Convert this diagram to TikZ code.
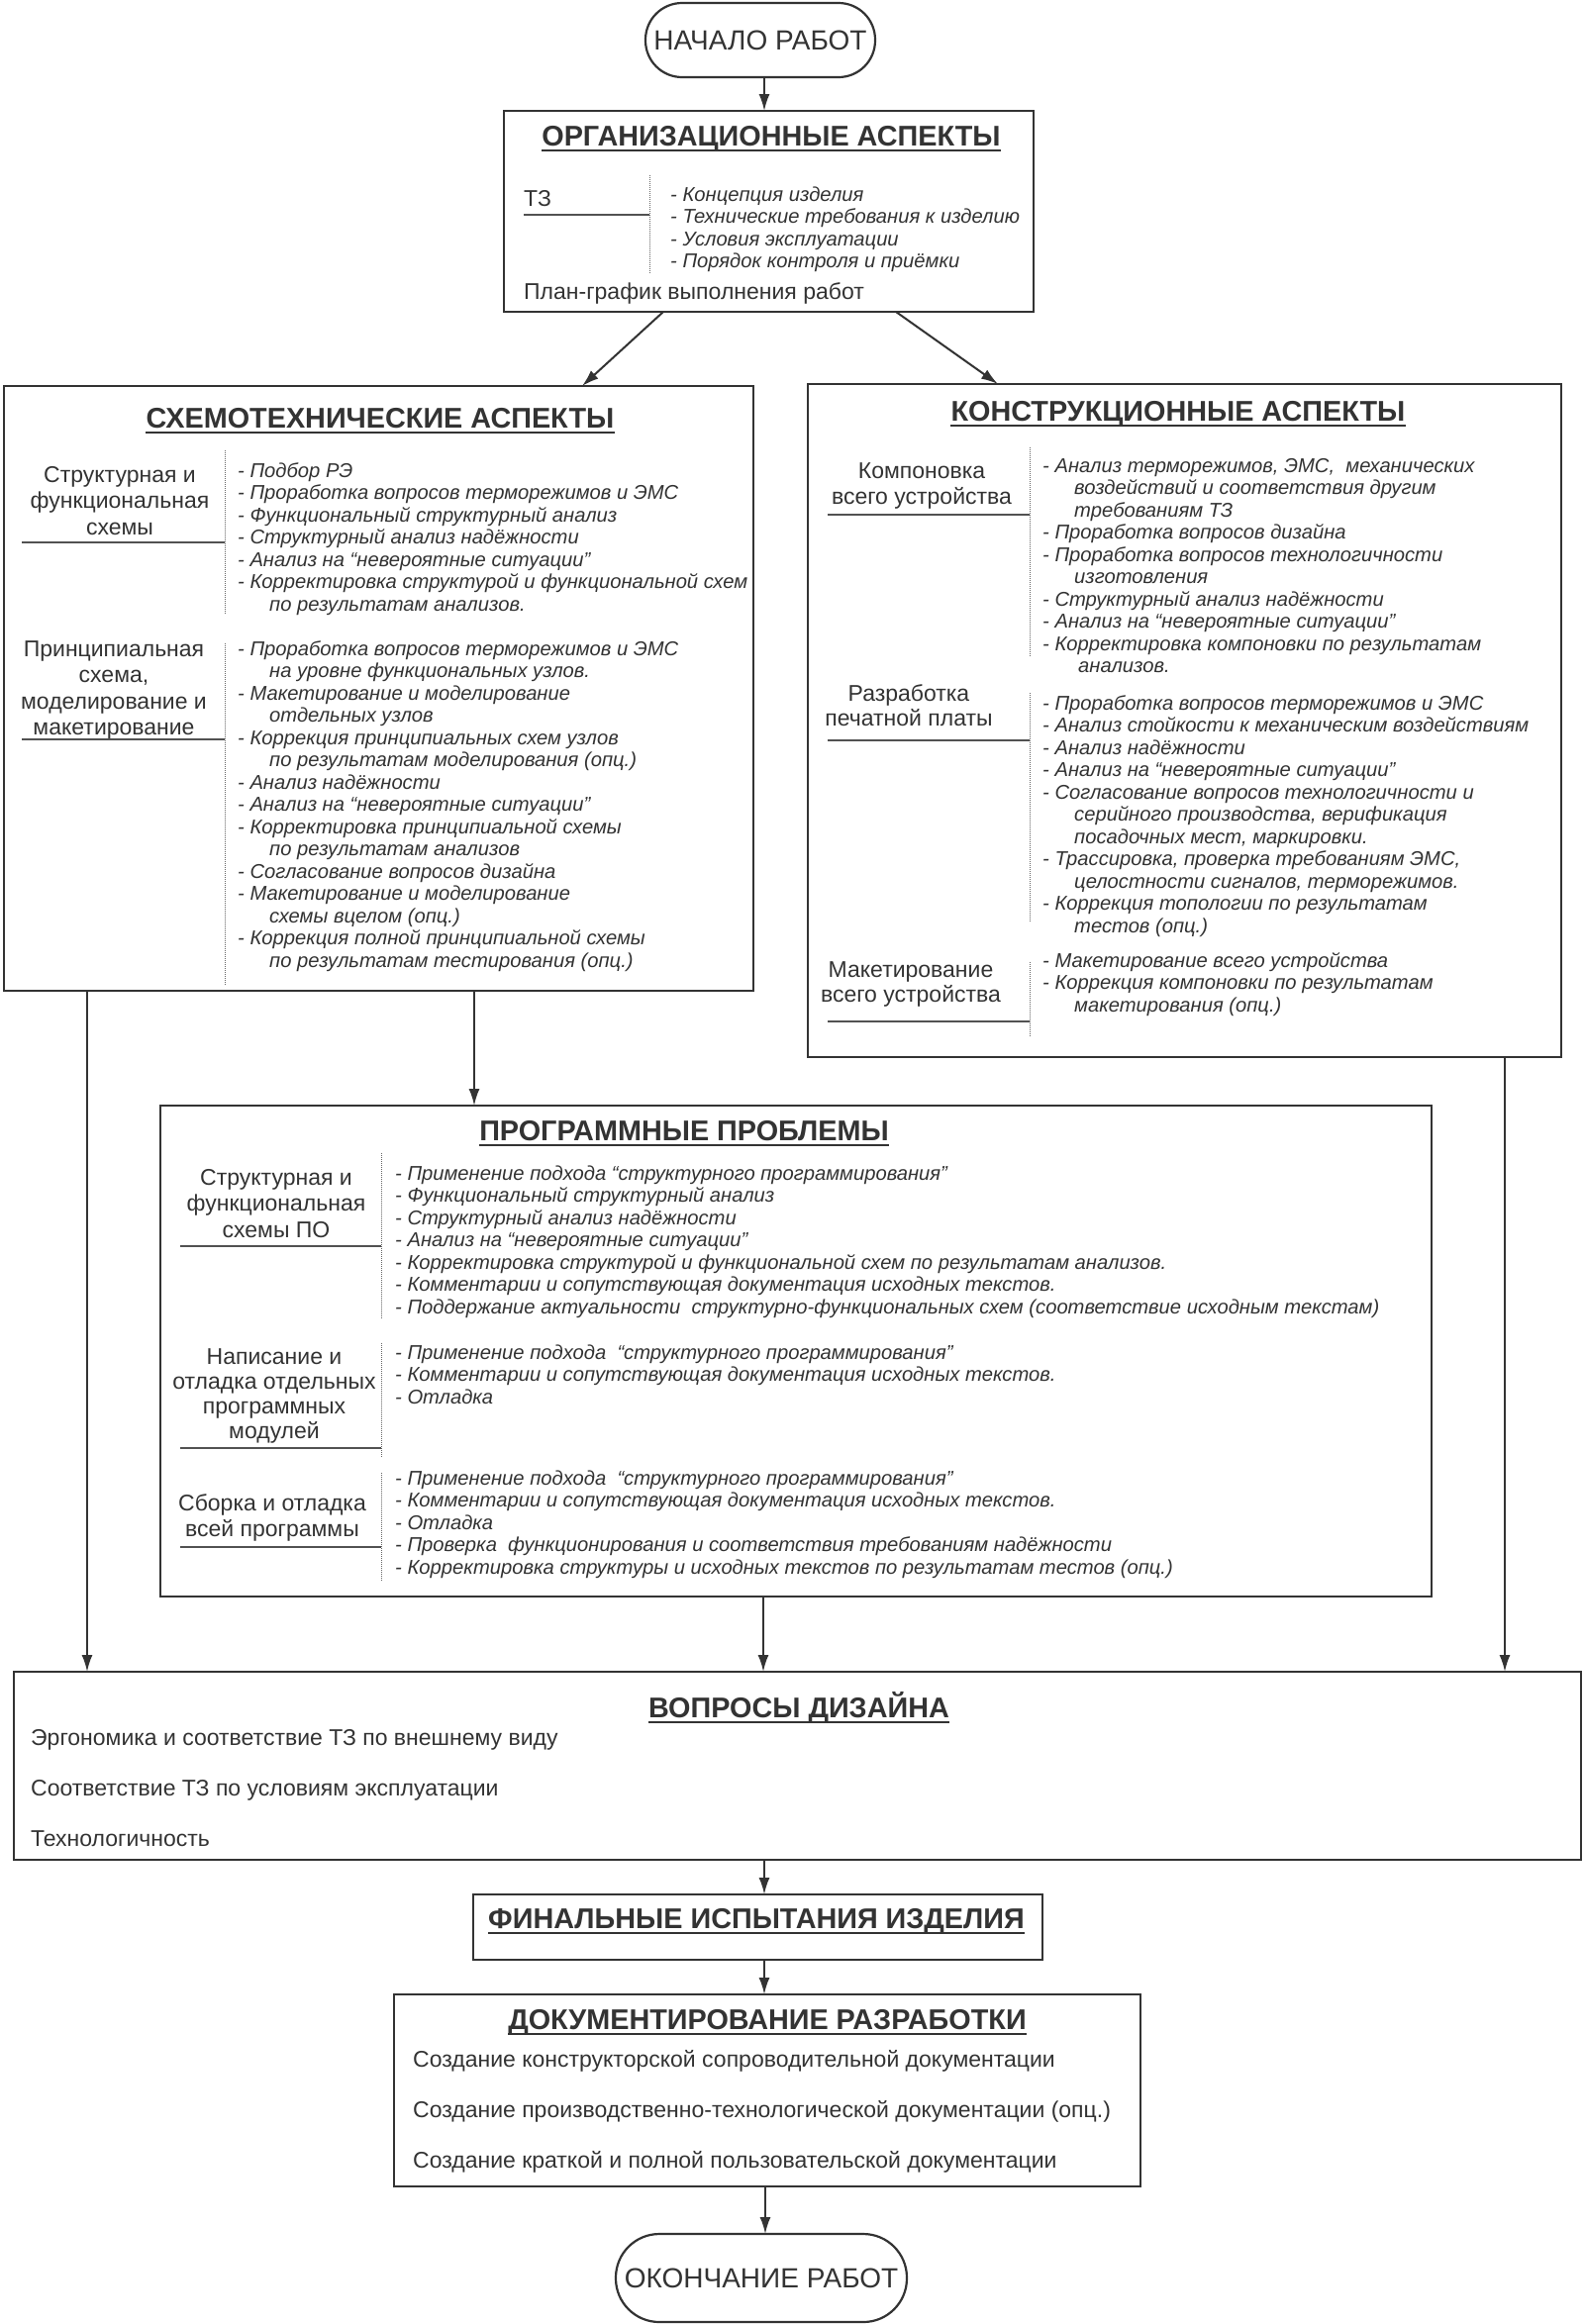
\documentclass[tikz,border=0pt]{standalone}
\usepackage{fontspec}
\setmainfont{Liberation Sans}
\usetikzlibrary{arrows.meta}
\definecolor{ink}{HTML}{333333}
\newcommand\myind{\hspace*{32pt}}
\begin{document}
\begin{tikzpicture}[x=1pt,y=-1pt,
  box/.style={draw=ink, line width=2.2pt, inner sep=0pt, outer sep=0pt, anchor=north west},
  oval/.style={draw=ink, line width=2.2pt, inner sep=0pt, outer sep=0pt, text=ink, font=\fontsize{28}{30}\selectfont},
  arr/.style={draw=ink, line width=2pt, -{Latex[length=17pt,width=11pt]}},
  ttl/.style={inner sep=0pt, text=ink, font=\fontsize{28.8}{30}\selectfont\bfseries, anchor=base},
  uline/.style={draw=ink, line width=2pt},
  lbl/.style={inner sep=0pt, text=ink, font=\fontsize{23}{26.5}\selectfont, anchor=base},
  itm/.style={inner sep=0pt, text=ink, font=\fontsize{23}{26.5}\selectfont, anchor=base west},
  bul/.style={inner sep=0pt, text=ink, font=\fontsize{20.2}{22.5}\selectfont\itshape, anchor=base west},
  vdiv/.style={draw=ink!75, line width=1pt, densely dotted},
  hdiv/.style={draw=ink!85, line width=1.1pt},
]
\fill[white] (0,0) rectangle (1600,2348);
\useasboundingbox (0,0) rectangle (1600,2348);

% column coordinates for connectors
\coordinate (c1) at (772,0);
\coordinate (cL1) at (670,0);
\coordinate (cL2) at (588,0);
\coordinate (cR1) at (905,0);
\coordinate (cR2) at (1008,0);
\coordinate (c4) at (479,0);
\coordinate (c5) at (88,0);
\coordinate (c6) at (1520,0);
\coordinate (c7) at (771,0);
\coordinate (c10) at (773,0);

% ---------- start ----------
\node[oval, minimum width=232, minimum height=75, rounded corners=37pt] (start) at (768,40.5) {НАЧАЛО РАБОТ};

% ---------- organisational ----------
\node[box, minimum width=535, minimum height=203] (org) at (509,112) {};
\node[ttl] (t1) at (779,147) {ОРГАНИЗАЦИОННЫЕ АСПЕКТЫ};
\draw[uline] ([yshift=-5pt]t1.base west) -- ([yshift=-5pt]t1.base east);
\node[itm] (tz) at (529,208) {ТЗ};
\draw[hdiv] (529,217) -- (656,217);
\draw[vdiv] (656,177) -- (656,277);
\node[bul] (b0) at (677,203) {\begin{tabular}[t]{@{}l@{}}
- Концепция изделия\\
- Технические требования к изделию\\
- Условия эксплуатации\\
- Порядок контроля и приёмки\end{tabular}};
\node[itm] (plan) at (529,302) {План-график выполнения работ};

% ---------- circuit aspects ----------
\node[box, minimum width=757, minimum height=611] (left) at (4,390) {};
\node[ttl] (t2) at (384,432) {СХЕМОТЕХНИЧЕСКИЕ АСПЕКТЫ};
\draw[uline] ([yshift=-5pt]t2.base west) -- ([yshift=-5pt]t2.base east);
\node[lbl] (l1) at (121,487) {\begin{tabular}[t]{@{}c@{}}Структурная и\\функциональная\\схемы\end{tabular}};
\draw[hdiv] (22,548) -- (227,548);
\draw[vdiv] (227,455) -- (227,620);
\node[bul] (b1) at (240,482) {\begin{tabular}[t]{@{}l@{}}
- Подбор РЭ\\
- Проработка вопросов терморежимов и ЭМС\\
- Функциональный структурный анализ\\
- Структурный анализ надёжности\\
- Анализ на “невероятные ситуации”\\
- Корректировка структурой и функциональной схем\\
\myind по результатам анализов.\end{tabular}};
\node[lbl] (l2) at (115,663) {\begin{tabular}[t]{@{}c@{}}Принципиальная\\схема,\\моделирование и\\макетирование\end{tabular}};
\draw[hdiv] (22,747) -- (227,747);
\draw[vdiv] (227,650) -- (227,995);
\node[bul] (b2) at (240,662) {\begin{tabular}[t]{@{}l@{}}
- Проработка вопросов терморежимов и ЭМС\\
\myind на уровне функциональных узлов.\\
- Макетирование и моделирование\\
\myind отдельных узлов\\
- Коррекция принципиальных схем узлов\\
\myind по результатам моделирования (опц.)\\
- Анализ надёжности\\
- Анализ на “невероятные ситуации”\\
- Корректировка принципиальной схемы\\
\myind по результатам анализов\\
- Согласование вопросов дизайна\\
- Макетирование и моделирование\\
\myind схемы вцелом (опц.)\\
- Коррекция полной принципиальной схемы\\
\myind по результатам тестирования (опц.)\end{tabular}};

% ---------- construction aspects ----------
\node[box, minimum width=761, minimum height=680] (right) at (816,388) {};
\node[ttl] (t3) at (1190,425) {КОНСТРУКЦИОННЫЕ АСПЕКТЫ};
\draw[uline] ([yshift=-5pt]t3.base west) -- ([yshift=-5pt]t3.base east);
\node[lbl] (l3) at (931,483) {\begin{tabular}[t]{@{}c@{}}Компоновка\\всего устройства\end{tabular}};
\draw[hdiv] (836,520) -- (1040,520);
\draw[vdiv] (1040,452) -- (1040,663);
\node[bul] (b3) at (1053,477) {\begin{tabular}[t]{@{}l@{}}
- Анализ терморежимов, ЭМС,\ \ механических\\
\myind воздействий и соответствия другим\\
\myind требованиям ТЗ\\
- Проработка вопросов дизайна\\
- Проработка вопросов технологичности\\
\myind изготовления\\
- Структурный анализ надёжности\\
- Анализ на “невероятные ситуации”\\
- Корректировка компоновки по результатам\\
\myind\hspace*{4pt}анализов.\end{tabular}};
\node[lbl, font=\fontsize{23}{25}\selectfont] (l4) at (918,708) {\begin{tabular}[t]{@{}c@{}}Разработка\\печатной платы\end{tabular}};
\draw[hdiv] (836,748) -- (1040,748);
\draw[vdiv] (1040,700) -- (1040,932);
\node[bul] (b4) at (1053,717) {\begin{tabular}[t]{@{}l@{}}
- Проработка вопросов терморежимов и ЭМС\\
- Анализ стойкости к механическим воздействиям\\
- Анализ надёжности\\
- Анализ на “невероятные ситуации”\\
- Согласование вопросов технологичности и\\
\myind серийного производства, верификация\\
\myind посадочных мест, маркировки.\\
- Трассировка, проверка требованиям ЭМС,\\
\myind целостности сигналов, терморежимов.\\
- Коррекция топологии по результатам\\
\myind тестов (опц.)\end{tabular}};
\node[lbl, font=\fontsize{23}{25}\selectfont] (l5) at (920,987) {\begin{tabular}[t]{@{}c@{}}Макетирование\\всего устройства\end{tabular}};
\draw[hdiv] (836,1032) -- (1040,1032);
\draw[vdiv] (1040,972) -- (1040,1047);
\node[bul] (b5) at (1053,977) {\begin{tabular}[t]{@{}l@{}}
- Макетирование всего устройства\\
- Коррекция компоновки по результатам\\
\myind макетирования (опц.)\end{tabular}};

% ---------- software ----------
\node[box, minimum width=1284, minimum height=496] (prog) at (162,1117) {};
\node[ttl] (t4) at (691,1152) {ПРОГРАММНЫЕ ПРОБЛЕМЫ};
\draw[uline] ([yshift=-5pt]t4.base west) -- ([yshift=-5pt]t4.base east);
\node[lbl] (l6) at (279,1197) {\begin{tabular}[t]{@{}c@{}}Структурная и\\функциональная\\схемы ПО\end{tabular}};
\draw[hdiv] (182,1259) -- (385,1259);
\draw[vdiv] (385,1165) -- (385,1333);
\node[bul] (b6) at (399,1192) {\begin{tabular}[t]{@{}l@{}}
- Применение подхода “структурного программирования”\\
- Функциональный структурный анализ\\
- Структурный анализ надёжности\\
- Анализ на “невероятные ситуации”\\
- Корректировка структурой и функциональной схем по результатам анализов.\\
- Комментарии и сопутствующая документация исходных текстов.\\
- Поддержание актуальности\ \ структурно-функциональных схем (соответствие исходным текстам)\end{tabular}};
\node[lbl, font=\fontsize{23}{25}\selectfont] (l7) at (277,1378) {\begin{tabular}[t]{@{}c@{}}Написание и\\отладка отдельных\\программных\\модулей\end{tabular}};
\draw[hdiv] (182,1463) -- (385,1463);
\draw[vdiv] (385,1357) -- (385,1473);
\node[bul] (b7) at (399,1373) {\begin{tabular}[t]{@{}l@{}}
- Применение подхода\ \ “структурного программирования”\\
- Комментарии и сопутствующая документация исходных текстов.\\
- Отладка\end{tabular}};
\node[lbl] (l8) at (275,1526) {\begin{tabular}[t]{@{}c@{}}Сборка и отладка\\всей программы\end{tabular}};
\draw[hdiv] (182,1563) -- (385,1563);
\draw[vdiv] (385,1488) -- (385,1597);
\node[bul] (b8) at (399,1500) {\begin{tabular}[t]{@{}l@{}}
- Применение подхода\ \ “структурного программирования”\\
- Комментарии и сопутствующая документация исходных текстов.\\
- Отладка\\
- Проверка\ \ функционирования и соответствия требованиям надёжности\\
- Корректировка структуры и исходных текстов по результатам тестов (опц.)\end{tabular}};

% ---------- design ----------
\node[box, minimum width=1583, minimum height=190] (design) at (14,1689) {};
\node[ttl] (t5) at (807,1735) {ВОПРОСЫ ДИЗАЙНА};
\draw[uline] ([yshift=-5pt]t5.base west) -- ([yshift=-5pt]t5.base east);
\node[itm] (d1) at (31,1763) {Эргономика и соответствие ТЗ по внешнему виду};
\node[itm] (d2) at (31,1814) {Соответствие ТЗ по условиям эксплуатации};
\node[itm] (d3) at (31,1865) {Технологичность};

% ---------- final tests ----------
\node[box, minimum width=575, minimum height=66] (final) at (478,1914) {};
\node[ttl] (t6) at (764,1948) {ФИНАЛЬНЫЕ ИСПЫТАНИЯ ИЗДЕЛИЯ};
\draw[uline] ([yshift=-5pt]t6.base west) -- ([yshift=-5pt]t6.base east);

% ---------- documentation ----------
\node[box, minimum width=754, minimum height=194] (doc) at (398,2015) {};
\node[ttl] (t7) at (775,2050) {ДОКУМЕНТИРОВАНИЕ РАЗРАБОТКИ};
\draw[uline] ([yshift=-5pt]t7.base west) -- ([yshift=-5pt]t7.base east);
\node[itm] (e1) at (417,2088) {Создание конструкторской сопроводительной документации};
\node[itm] (e2) at (417,2139) {Создание производственно-технологической документации (опц.)};
\node[itm] (e3) at (417,2190) {Создание краткой и полной пользовательской документации};

% ---------- end ----------
\node[oval, minimum width=294, minimum height=89, rounded corners=44pt] (finish) at (769,2301.5) {ОКОНЧАНИЕ РАБОТ};

% ---------- connectors ----------
\draw[arr] (start.south -| c1) -- (org.north -| c1);
\draw[arr] (org.south -| cL1) -- (left.north -| cL2);
\draw[arr] (org.south -| cR1) -- (right.north -| cR2);
\draw[arr] (left.south -| c4) -- (prog.north -| c4);
\draw[arr] (left.south -| c5) -- (design.north -| c5);
\draw[arr] (right.south -| c6) -- (design.north -| c6);
\draw[arr] (prog.south -| c7) -- (design.north -| c7);
\draw[arr] (design.south -| c1) -- (final.north -| c1);
\draw[arr] (final.south -| c1) -- (doc.north -| c1);
\draw[arr] (doc.south -| c10) -- (finish.north -| c10);
\end{tikzpicture}
\end{document}
